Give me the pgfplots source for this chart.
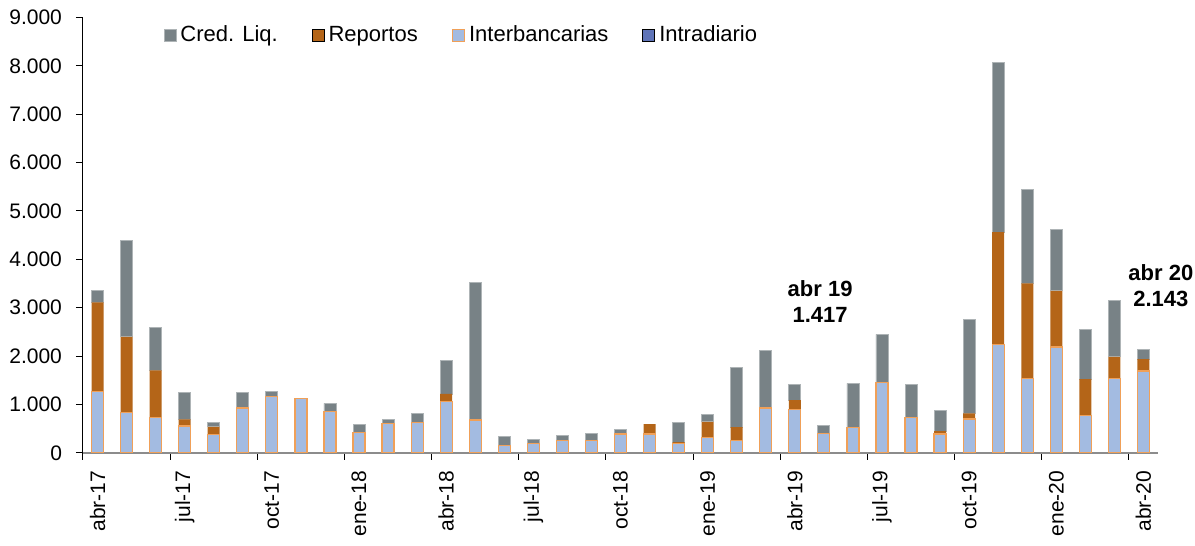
\documentclass[border=0pt]{standalone}
\usepackage{pgfplots}
\pgfplotsset{compat=1.18}
\usepackage{pgfplotstable}
\usepackage{fontspec}
\setmainfont{Liberation Sans}
\definecolor{credc}{HTML}{788286}
\definecolor{repc}{HTML}{B46518}
\definecolor{interc}{HTML}{A3BBE1}
\definecolor{interb}{HTML}{F0A058}
\definecolor{intrac}{HTML}{5F74B8}
\pgfplotstableread{
i intra inter rep cred
0 0 1275 1833 241
1 0 827 1571 1984
2 0 731 972 895
3 0 552 138 550
4 0 380 157 91
5 0 924 0 316
6 0 1166 0 95
7 0 1124 0 0
8 0 855 0 166
9 0 421 0 158
10 0 607 0 83
11 0 620 0 194
12 0 1054 162 700
13 0 676 0 2846
14 0 152 0 187
15 0 194 0 75
16 0 262 0 97
17 0 262 0 139
18 0 387 0 103
19 0 387 206 0
20 0 194 27 399
21 0 310 331 159
22 0 262 269 1234
23 0 924 0 1193
24 0 900 189 328
25 0 400 0 158
26 0 517 0 917
27 0 1447 0 1000
28 0 723 0 691
29 0 387 62 434
30 0 697 117 1943
31 0 2240 2322 3514
32 0 1530 1971 1935
33 0 2185 1164 1269
34 0 779 744 1034
35 0 1530 454 1158
36 0 1689 248 206
}\data
\begin{document}
\begin{tikzpicture}
\begin{axis}[
  at={(0,0)}, anchor=south west,
  scale only axis, width=537.5pt, height=217.7pt,
  ybar stacked, bar width=6pt,
  xmin=-0.5, xmax=36.5, ymin=0, ymax=9000,
  axis x line*=bottom, axis y line*=left,
  x axis line style={draw=gray!90, line width=0.8pt},
  y axis line style={draw=black, line width=0.5pt},
  xtick={0,3,...,36},
  xticklabels={abr-17,jul-17,oct-17,ene-18,abr-18,jul-18,oct-18,ene-19,abr-19,jul-19,oct-19,ene-20,abr-20},
  minor xtick={-0.5,2.5,...,35.5},
  major x tick style={draw=none},
  minor x tick style={draw=black, line width=0.5pt},
  ytick={0,1000,...,9000},
  tick align=outside, major tick length=3.5pt, minor tick length=3.5pt,
  y tick style={draw=black, line width=0.5pt},
  /pgf/number format/assume math mode=true,
  yticklabel style={/pgf/number format/.cd, fixed, 1000 sep={.}},
  scaled y ticks=false,
  ticklabel style={font=\fontsize{10.5}{12.5}\selectfont},
  xticklabel style={rotate=90, anchor=east},
  xticklabel shift=2pt, yticklabel shift=3.5pt,
  clip=false,
  reverse legend,
  legend columns=4,
  legend style={at={(0.069,1.0)}, anchor=north west, draw=none, fill=none,
    font=\fontsize{11}{13}\selectfont,
    /tikz/every even column/.append style={column sep=15pt}},
  legend image code/.code={\draw[#1] (0pt,-3pt) rectangle (6pt,3pt);},
]
\addplot[fill=intrac, draw=none] table[x=i, y=intra] {\data};
\addplot[fill=interc, draw=interb, line width=0.6pt] table[x=i, y=inter] {\data};
\addplot[fill=repc, draw=none] table[x=i, y=rep] {\data};
\addplot[fill=credc, draw=credc!60] table[x=i, y=cred] {\data};
\legend{Intradiario,Interbancarias,Reportos,Cred. Liq.}
\node[font=\bfseries\fontsize{11}{13}\selectfont, align=center, inner sep=0pt] at (axis cs:24.87,3136) {abr 19\\1.417};
\node[font=\bfseries\fontsize{11}{13}\selectfont, align=center, inner sep=0pt] at (axis cs:36.6,3446) {abr 20\\2.143};
\end{axis}
\path (-41.5pt,-46.2pt) rectangle (556pt,226.4pt);
\end{tikzpicture}
\end{document}
